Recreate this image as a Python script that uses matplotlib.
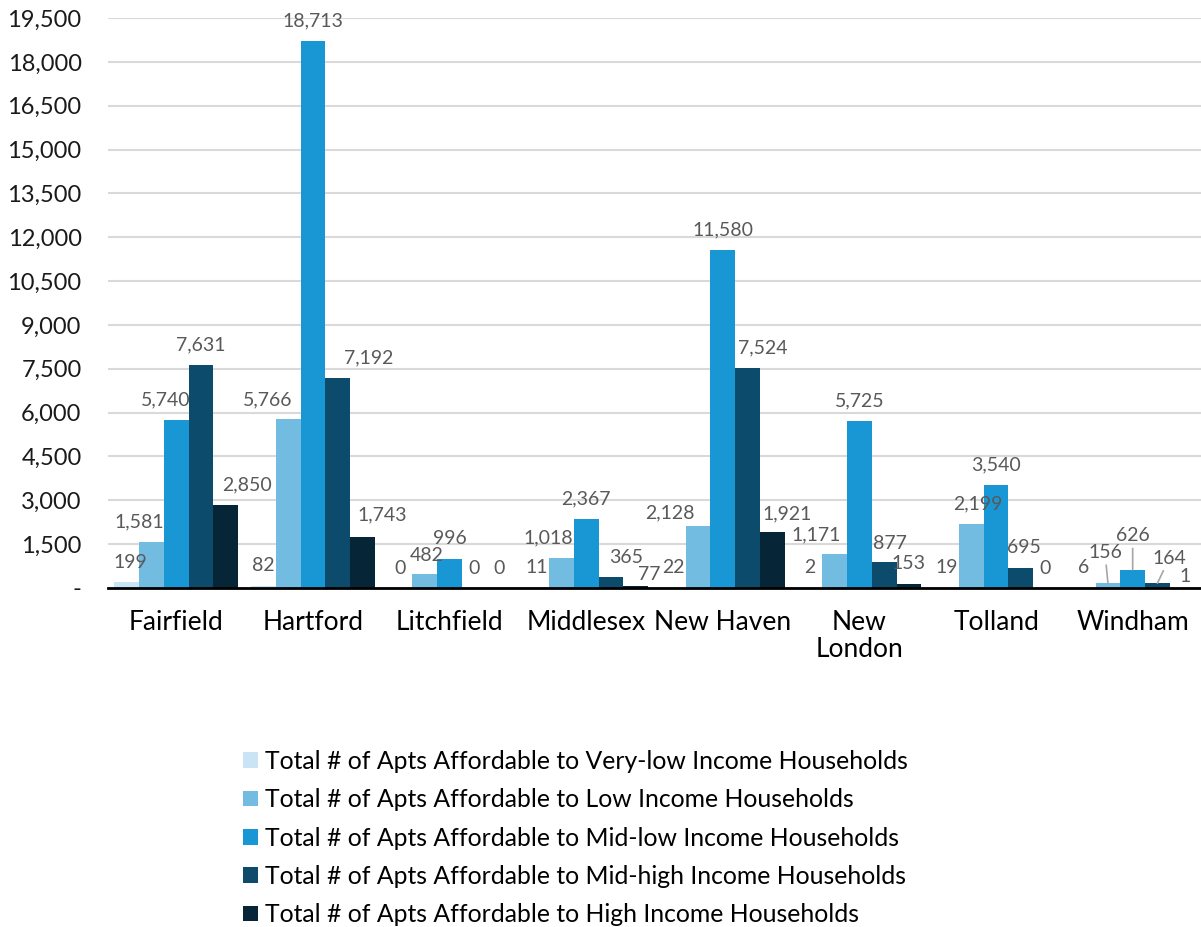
import matplotlib
matplotlib.use("Agg")
import matplotlib.pyplot as plt
from matplotlib.patches import Patch
from matplotlib.ticker import FuncFormatter, MultipleLocator
import numpy as np

plt.rcParams['font.family'] = ['Lato', 'DejaVu Sans']

counties = ["Fairfield", "Hartford", "Litchfield", "Middlesex", "New Haven",
            "New\nLondon", "Tolland", "Windham"]
series_names = [
    "Total # of Apts Affordable to Very-low Income Households",
    "Total # of Apts Affordable to Low Income Households",
    "Total # of Apts Affordable to Mid-low Income Households",
    "Total # of Apts Affordable to Mid-high Income Households",
    "Total # of Apts Affordable to High Income Households",
]
very_low = [199, 82, 0, 11, 22, 2, 19, 6]
low = [1581, 5766, 482, 1018, 2128, 1171, 2199, 156]
mid_low = [5740, 18713, 996, 2367, 11580, 5725, 3540, 626]
mid_high = [7631, 7192, 0, 365, 7524, 877, 695, 164]
high = [2850, 1743, 0, 77, 1921, 153, 0, 1]
series = [very_low, low, mid_low, mid_high, high]

colors = ["#c9e4f4", "#72bce2", "#1996d4", "#0c4b6b", "#062637"]

# label offsets in pixels (dx, dy) from bar top centre; default (0, 20)
label_off = {
    (0, 0): (3, 20), (0, 1): (-12, 20), (0, 2): (-11, 20), (0, 4): (21, 20),
    (1, 1): (-21, 20), (1, 3): (31, 20), (1, 4): (20, 22),
    (2, 1): (2, 18),
    (3, 1): (-13, 20), (3, 3): (15, 20), (3, 4): (14, 11),
    (4, 1): (-28, 13), (4, 3): (15, 20), (4, 4): (15, 18),
    (5, 1): (-19, 19), (5, 3): (6, 19),
    (6, 1): (6, 20), (6, 3): (3, 20),
    (7, 1): (-3, 31), (7, 2): (0, 34), (7, 3): (12, 25), (7, 4): (3, 11),
}
leaders = {(7, 1), (7, 2), (7, 3)}

fig = plt.figure(figsize=(12.01, 9.27), dpi=100)
ax = fig.add_axes([108 / 1201, 339 / 927, 1 - 108 / 1201, 570 / 927])

x = np.arange(len(counties))
n = len(series)
group_w = 0.905
bw = group_w / n
for j, vals in enumerate(series):
    pos = x - group_w / 2 + bw * (j + 0.5)
    ax.bar(pos, vals, width=bw, color=colors[j], zorder=3, linewidth=0)
    for i, v in enumerate(vals):
        dx, dy = label_off.get((i, j), (0, 20))
        kw = {}
        if (i, j) in leaders:
            kw['arrowprops'] = dict(arrowstyle='-', color='#a6a6a6', lw=1.2,
                                    shrinkA=1, shrinkB=0)
        ax.annotate(f"{v:,}", xy=(pos[i], v), xytext=(dx, dy),
                    textcoords='offset pixels', ha='center', va='center',
                    fontsize=14, color='#595959', zorder=4, **kw)

ax.set_xlim(-0.5, len(counties) - 0.5)
ax.set_ylim(0, 19500)
ax.yaxis.set_major_locator(MultipleLocator(1500))
ax.yaxis.set_major_formatter(FuncFormatter(lambda v, p: "-" if v == 0 else f"{int(v):,}"))
ax.set_xticks(x)
ax.set_xticklabels(counties, fontsize=19, color='black', linespacing=1.1)
ax.tick_params(axis='y', length=0, pad=19, labelsize=17, labelcolor='#1a1a1a')
ax.tick_params(axis='x', length=0, pad=16)
ax.grid(axis='y', color='#d9d9d9', lw=1.5, zorder=0)
for s in ['top', 'right', 'left']:
    ax.spines[s].set_visible(False)
ax.spines['bottom'].set_color('black')
ax.spines['bottom'].set_linewidth(2)
ax.spines['bottom'].set_zorder(5)

handles = [Patch(facecolor=c, edgecolor='none') for c in colors]
fig.legend(handles, series_names, loc='upper left',
           bbox_to_anchor=(243 / 1201, (927 - 750) / 927),
           frameon=False, fontsize=17.8, handlelength=0.6, handleheight=0.6,
           handletextpad=0.3, labelspacing=0.62, borderpad=0, borderaxespad=0)

fig.savefig("out.png", dpi=100)
